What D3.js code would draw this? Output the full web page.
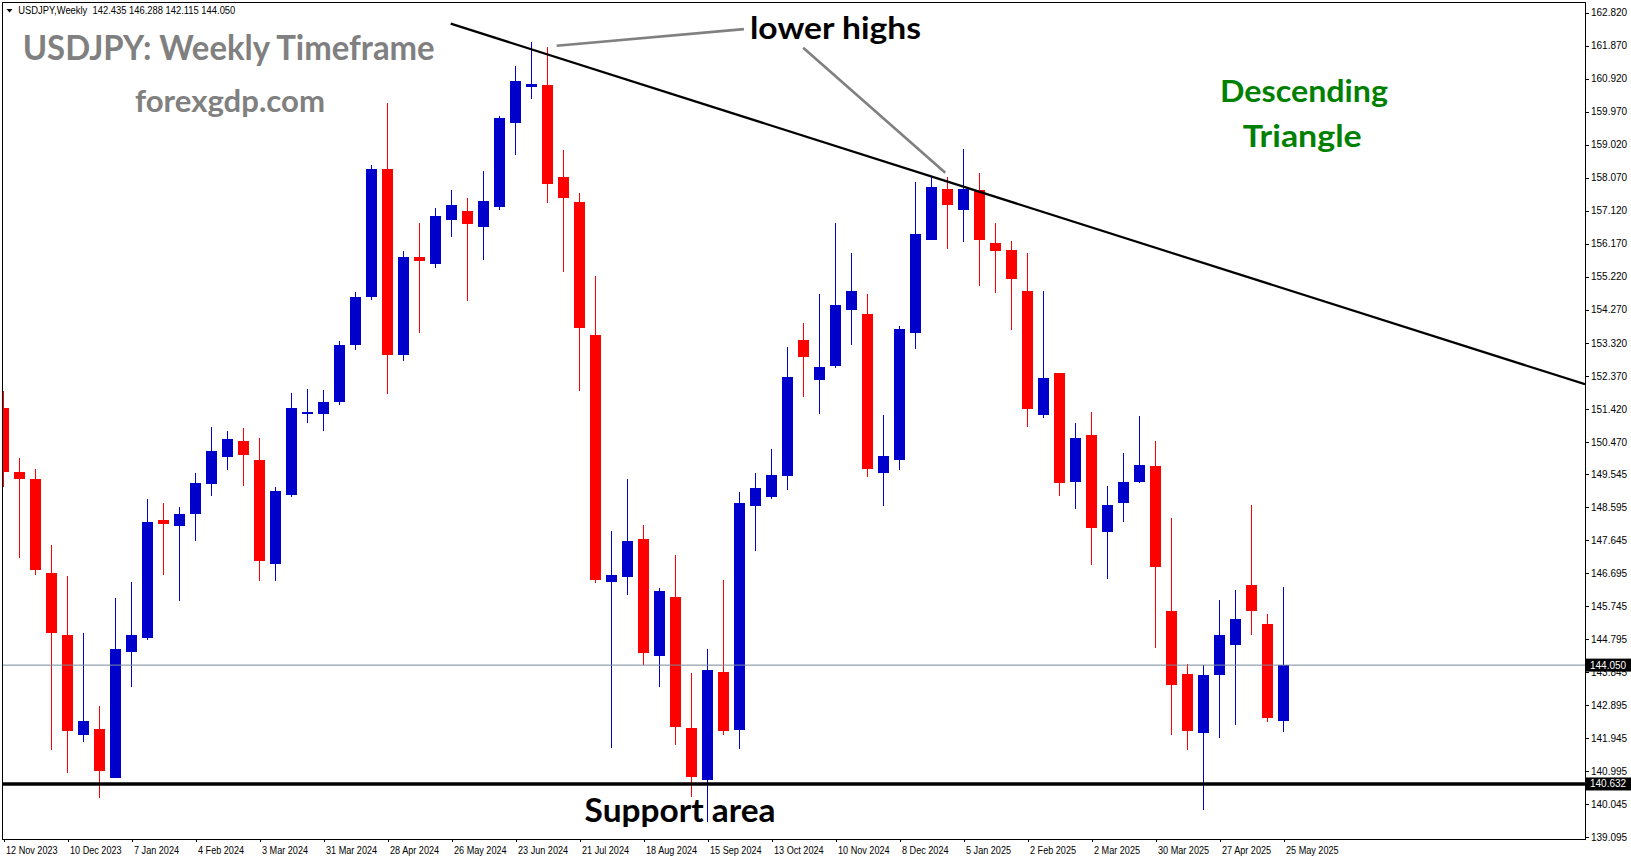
<!DOCTYPE html>
<html><head><meta charset="utf-8">
<script src="https://cdn.jsdelivr.net/npm/d3@7"></script>
<style>html,body{margin:0;padding:0;background:#fff;overflow:hidden}</style>
</head><body>
<script>
// ---- data (weekly USDJPY candles, 12 Nov 2023 .. 25 May 2025) ----
const symbolLabel = "USDJPY,Weekly";
const lastOHLC = ["142.435", "146.288", "142.115", "144.050"];
const open = [151.45,149.60,149.40,146.70,144.92,142.05,142.21,140.81,144.43,144.84,
  148.22,148.05,148.40,149.26,150.03,150.49,149.95,146.96,148.94,151.26,
  151.26,151.62,153.26,154.64,158.33,152.97,155.78,155.59,156.85,157.11,
  156.65,157.23,159.64,160.68,160.73,158.09,157.37,153.54,146.44,146.58,
  147.68,144.31,146.01,142.24,140.75,143.85,142.18,148.63,148.89,149.49,
  153.40,152.26,152.66,154.26,154.15,149.58,149.95,153.60,156.27,157.74,
  157.14,157.71,156.19,155.99,154.81,151.24,152.45,149.32,150.66,147.88,
  148.71,149.32,149.78,145.61,143.80,142.10,143.77,144.63,146.35,145.23,142.435];
const high = [151.93,150.01,149.69,147.50,146.61,144.97,142.87,145.98,146.44,148.83,
  148.71,148.60,149.58,150.90,150.78,150.87,150.58,149.17,151.88,151.99,
  151.96,153.38,154.79,158.44,160.21,155.95,156.78,157.20,157.71,157.48,
  158.26,159.84,161.28,161.97,161.83,158.86,157.63,155.24,147.91,149.40,
  148.08,146.27,147.22,143.82,144.51,146.50,149.03,149.58,150.27,153.20,
  153.89,154.72,156.76,155.90,154.72,151.24,153.80,157.94,158.09,158.09,
  158.89,158.20,156.76,156.25,155.90,154.81,152.45,151.01,151.33,149.20,
  150.15,151.21,150.50,148.28,144.08,144.05,145.92,146.21,148.66,145.52,146.288];
const low = [149.18,147.14,146.65,141.62,140.96,141.85,140.24,140.81,143.43,144.77,
  146.64,145.89,147.62,148.91,149.66,149.20,146.47,146.47,148.89,151.01,
  150.78,151.53,153.12,154.54,151.86,152.80,153.60,155.47,156.36,154.52,
  155.70,157.14,158.72,160.33,157.34,155.36,151.94,146.42,141.68,146.07,
  144.04,143.42,141.75,140.26,139.54,142.04,141.64,147.33,148.83,149.09,
  151.77,151.28,152.60,153.26,149.46,148.63,149.66,153.14,156.27,156.01,
  156.22,154.95,154.75,153.69,150.90,151.15,148.91,148.54,146.93,146.53,
  148.17,149.29,144.54,142.04,141.61,139.88,141.95,142.33,144.92,142.41,142.115];
const close = [149.59,149.40,146.79,144.98,142.16,142.44,141.01,144.52,144.92,148.17,
  148.11,148.40,149.29,150.21,150.55,150.09,147.05,149.06,151.45,151.33,
  151.62,153.26,154.64,158.33,152.97,155.78,155.67,156.97,157.29,156.74,
  157.40,159.79,160.85,160.76,157.89,157.49,153.75,146.50,146.64,147.62,
  144.40,146.18,142.27,140.83,143.91,142.15,148.71,149.14,149.52,152.34,
  152.91,152.62,154.41,154.81,149.69,150.07,153.71,156.44,157.80,157.28,
  157.74,156.27,155.96,155.15,151.42,152.30,149.29,150.58,148.00,148.66,
  149.32,149.81,146.87,143.48,142.16,143.77,144.92,145.38,145.61,142.52,144.050];

const priceTicks = [162.820,161.870,160.920,159.970,159.020,158.070,157.120,156.170,155.220,
  154.270,153.320,152.370,151.420,150.470,149.545,148.595,147.645,146.695,145.745,144.795,
  143.845,142.895,141.945,140.995,140.045,139.095];
const dateTickIdx = [0,4,8,12,16,20,24,28,32,36,40,44,48,52,56,60,64,68,72,76,80];
const dateTickLabels = ["12 Nov 2023","10 Dec 2023","7 Jan 2024","4 Feb 2024","3 Mar 2024",
  "31 Mar 2024","28 Apr 2024","26 May 2024","23 Jun 2024","21 Jul 2024","18 Aug 2024",
  "15 Sep 2024","13 Oct 2024","10 Nov 2024","8 Dec 2024","5 Jan 2025","2 Feb 2025",
  "2 Mar 2025","30 Mar 2025","27 Apr 2025","25 May 2025"];

const currentPrice = 144.050;
const supportPrice = 140.632;
const trendAnchors = [[33, 161.76], [60, 157.81]];   // [bar index, price]
const trendStartIdx = 27.95;
const pointer1 = [[34.575, 161.862], [46.275, 162.343]];
const pointer2 = [[49.98, 161.805], [58.86, 158.213]];

// ---- layout ----
const W = 1631, H = 861;
const plotL = 2.5, plotT = 2.5, plotR = 1585, plotB = 839;
const x = d3.scaleLinear().domain([0, 80]).range([3.5, 1283.5]);
const y = d3.scaleLinear().domain([139.095, 162.82]).range([837.4, 12.5]);
const bull = "#0000CD", bear = "#FF0000";
const axisFont = "'Liberation Sans', Arial, sans-serif";
const bigFont = "Lato, 'Open Sans', sans-serif";

const svg = d3.select("body").append("svg").attr("width", W).attr("height", H)
  .style("display", "block");
svg.append("rect").attr("width", W).attr("height", H).attr("fill", "#fff");

svg.append("defs").append("clipPath").attr("id", "plotclip")
  .append("rect").attr("x", 3).attr("y", 3).attr("width", plotR - 3).attr("height", plotB - 3);

const plot = svg.append("g").attr("clip-path", "url(#plotclip)");

// candles
const bars = d3.range(open.length).map(i => ({i, o: open[i], h: high[i], l: low[i], c: close[i]}));
const cg = plot.append("g").attr("shape-rendering", "crispEdges");
cg.selectAll("line.wick").data(bars).join("line")
  .attr("x1", d => x(d.i)).attr("x2", d => x(d.i))
  .attr("y1", d => y(d.h)).attr("y2", d => y(d.l))
  .attr("stroke", d => d.c >= d.o ? bull : bear).attr("stroke-width", 1);
cg.selectAll("rect.body").data(bars).join("rect")
  .attr("x", d => x(d.i) - 5.5).attr("width", 11)
  .attr("y", d => y(Math.max(d.o, d.c)))
  .attr("height", d => Math.max(1.5, y(Math.min(d.o, d.c)) - y(Math.max(d.o, d.c))))
  .attr("fill", d => d.c >= d.o ? bull : bear);

// current price line
plot.append("line").attr("x1", plotL).attr("x2", plotR)
  .attr("y1", y(currentPrice)).attr("y2", y(currentPrice))
  .attr("stroke", "#778899").attr("stroke-width", 1);
// support line
plot.append("line").attr("x1", plotL).attr("x2", plotR)
  .attr("y1", y(supportPrice)).attr("y2", y(supportPrice))
  .attr("stroke", "#000").attr("stroke-width", 3.5);

// trend line (ray to right edge)
const slope = (trendAnchors[1][1] - trendAnchors[0][1]) / (trendAnchors[1][0] - trendAnchors[0][0]);
const tPrice = i => trendAnchors[0][1] + slope * (i - trendAnchors[0][0]);
const endIdx = x.invert(plotR);
plot.append("line")
  .attr("x1", x(trendStartIdx)).attr("y1", y(tPrice(trendStartIdx)))
  .attr("x2", x(endIdx)).attr("y2", y(tPrice(endIdx)))
  .attr("stroke", "#000").attr("stroke-width", 2.2);

// pointer lines
[pointer1, pointer2].forEach(p => {
  plot.append("line")
    .attr("x1", x(p[0][0])).attr("y1", y(p[0][1]))
    .attr("x2", x(p[1][0])).attr("y2", y(p[1][1]))
    .attr("stroke", "#808080").attr("stroke-width", 2.6);
});

// frame
svg.append("rect").attr("x", plotL).attr("y", plotT)
  .attr("width", plotR - plotL).attr("height", plotB - plotT)
  .attr("fill", "none").attr("stroke", "#000").attr("stroke-width", 1)
  .attr("shape-rendering", "crispEdges");

// y axis
const yAxis = d3.axisRight(y).tickValues(priceTicks).tickSize(4).tickPadding(2)
  .tickFormat(d3.format(".3f"));
const ya = svg.append("g").attr("transform", `translate(${plotR},0)`).call(yAxis);
ya.select(".domain").remove();
ya.selectAll("line").attr("stroke", "#000").attr("shape-rendering", "crispEdges");
ya.selectAll("text").attr("font-family", axisFont).attr("font-size", 10).attr("fill", "#000");

// x axis
const xAxis = d3.axisBottom(x).tickValues(dateTickIdx).tickSize(3).tickPadding(2)
  .tickFormat((d, k) => dateTickLabels[k]);
const xa = svg.append("g").attr("transform", `translate(0,${plotB})`).call(xAxis);
xa.select(".domain").remove();
xa.selectAll("line").attr("stroke", "#000").attr("shape-rendering", "crispEdges");
xa.selectAll("text").attr("font-family", axisFont).attr("font-size", 10).attr("fill", "#000")
  .attr("text-anchor", "start").attr("dx", 2).attr("dy", "0.95em")
  .each(function() {
    const w = this.getComputedTextLength();
    d3.select(this).attr("textLength", w * 0.91).attr("lengthAdjust", "spacingAndGlyphs");
  });

// price label boxes
[[currentPrice, "144.050"], [supportPrice, "140.632"]].forEach(([p, s]) => {
  svg.append("rect").attr("x", plotR + 1).attr("y", y(p) - 6.5).attr("width", W - plotR - 1)
    .attr("height", 13).attr("fill", "#000");
  svg.append("text").attr("x", plotR + 5).attr("y", y(p)).attr("dy", "0.35em")
    .attr("font-family", axisFont).attr("font-size", 10).attr("fill", "#fff").text(s);
});

// header
svg.append("path").attr("d", "M6.5,9L12.5,9L9.5,12.5Z").attr("fill", "#000");
svg.append("text").attr("x", 18.3).attr("y", 14.3).style("white-space", "pre")
  .attr("font-family", axisFont).attr("font-size", 10).attr("fill", "#000")
  .attr("textLength", 217).attr("lengthAdjust", "spacingAndGlyphs")
  .text(symbolLabel + "  " + lastOHLC.join(" "));

// annotations
const notes = [
  {t: "USDJPY: Weekly Timeframe", x: 22.7, y: 60, s: 33.5, w: 412, c: "#808080"},
  {t: "forexgdp.com", x: 135, y: 111.7, s: 30, w: 190, c: "#808080"},
  {t: "lower highs", x: 750, y: 38.5, s: 31, w: 171, c: "#000"},
  {t: "Descending", x: 1220, y: 101.7, s: 30, w: 168, c: "#008000"},
  {t: "Triangle", x: 1242.7, y: 146.7, s: 30.5, w: 119, c: "#008000"},
  {t: "Support area", x: 584.6, y: 821.7, s: 33, w: 191, c: "#000"}
];
svg.selectAll("text.note").data(notes).join("text").attr("class", "note")
  .attr("x", d => d.x).attr("y", d => d.y)
  .attr("font-family", bigFont).attr("font-weight", 700).attr("font-size", d => d.s)
  .attr("fill", d => d.c).attr("textLength", d => d.w).attr("lengthAdjust", "spacingAndGlyphs")
  .text(d => d.t);
</script>
</body></html>
